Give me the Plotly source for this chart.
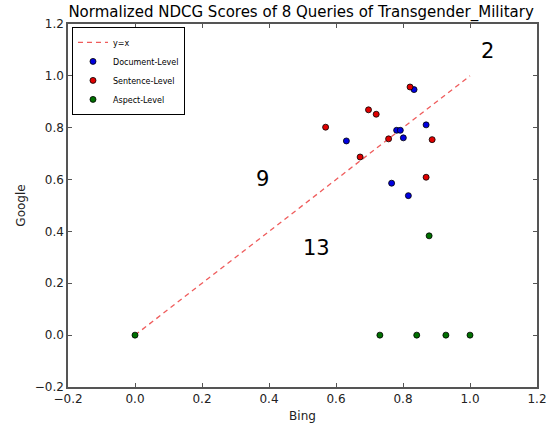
import plotly.graph_objects as go

# Document-Level (blue)
doc_bing = [0.833, 0.869, 0.781, 0.792, 0.631, 0.801, 0.766, 0.816]
doc_google = [0.947, 0.811, 0.790, 0.790, 0.749, 0.761, 0.586, 0.538]

# Sentence-Level (red)
sent_bing = [0.821, 0.697, 0.720, 0.569, 0.757, 0.887, 0.672, 0.869]
sent_google = [0.957, 0.869, 0.852, 0.802, 0.757, 0.754, 0.687, 0.609]

# Aspect-Level (green)
asp_bing = [0.0, 0.878, 0.731, 0.841, 0.928, 1.0]
asp_google = [0.0, 0.383, 0.0, 0.0, 0.0, 0.0]

# y = x reference line
ref_x = [0.0, 1.0]
ref_y = [0.0, 1.0]

# count labels
label_text = ["2", "9", "13"]
label_x = [1.053, 0.381, 0.541]
label_y = [1.094, 0.601, 0.335]

tick_vals = [-0.2, 0.0, 0.2, 0.4, 0.6, 0.8, 1.0, 1.2]

FONT = "DejaVu Sans"

fig = go.Figure()
fig.add_trace(go.Scatter(x=ref_x, y=ref_y, mode="lines", name="y=x",
                         line=dict(color="rgba(235,50,50,0.8)", width=1.3, dash="5px,4px")))

def pts(x, y, name, color):
    return go.Scatter(x=x, y=y, mode="markers", name=name,
                      marker=dict(color=color, size=6, line=dict(color="black", width=0.8)))

fig.add_trace(pts(doc_bing, doc_google, "Document-Level", "#0000e0"))
fig.add_trace(pts(sent_bing, sent_google, "Sentence-Level", "#e00000"))
fig.add_trace(pts(asp_bing, asp_google, "Aspect-Level", "#007000"))

for t, x, y in zip(label_text, label_x, label_y):
    fig.add_annotation(x=x, y=y, text=t, showarrow=False, xref="x", yref="y",
                       font=dict(family=FONT, size=21, color="black"))

axis_common = dict(
    showgrid=False, zeroline=False, showline=True, mirror="ticks",
    linecolor="#555", linewidth=1.5, ticks="inside", ticklen=4, tickcolor="#555",
    tickfont=dict(family=FONT, size=12, color="#222"),
    tickvals=tick_vals, tickformat=".1f", automargin=False,
)

fig.update_layout(
    width=555, height=429,
    margin=dict(l=68, r=18, t=24, b=42),
    paper_bgcolor="white", plot_bgcolor="white",
    font=dict(family=FONT, size=12, color="#222"),
    title=dict(text="Normalized NDCG Scores of 8 Queries of Transgender_Military",
               font=dict(family=FONT, size=15, color="black"),
               x=0.5425, xanchor="center", yref="container", y=0.973, yanchor="middle",
               automargin=False),
    xaxis=dict(range=[-0.2, 1.2], title=dict(text="Bing", font=dict(family=FONT, size=12), standoff=6),
               **axis_common),
    yaxis=dict(range=[-0.2, 1.2], title=dict(text="Google", font=dict(family=FONT, size=12), standoff=7),
               **axis_common),
    legend=dict(x=0.0085, y=0.992, xanchor="left", yanchor="top",
                bgcolor="white", bordercolor="black", borderwidth=1,
                font=dict(family=FONT, size=8, color="black"),
                tracegroupgap=0, itemwidth=30),
    showlegend=True,
)

fig.write_html("out.html", config={"displayModeBar": False},
               post_script="document.body.style.margin='0';document.body.style.padding='0';")
